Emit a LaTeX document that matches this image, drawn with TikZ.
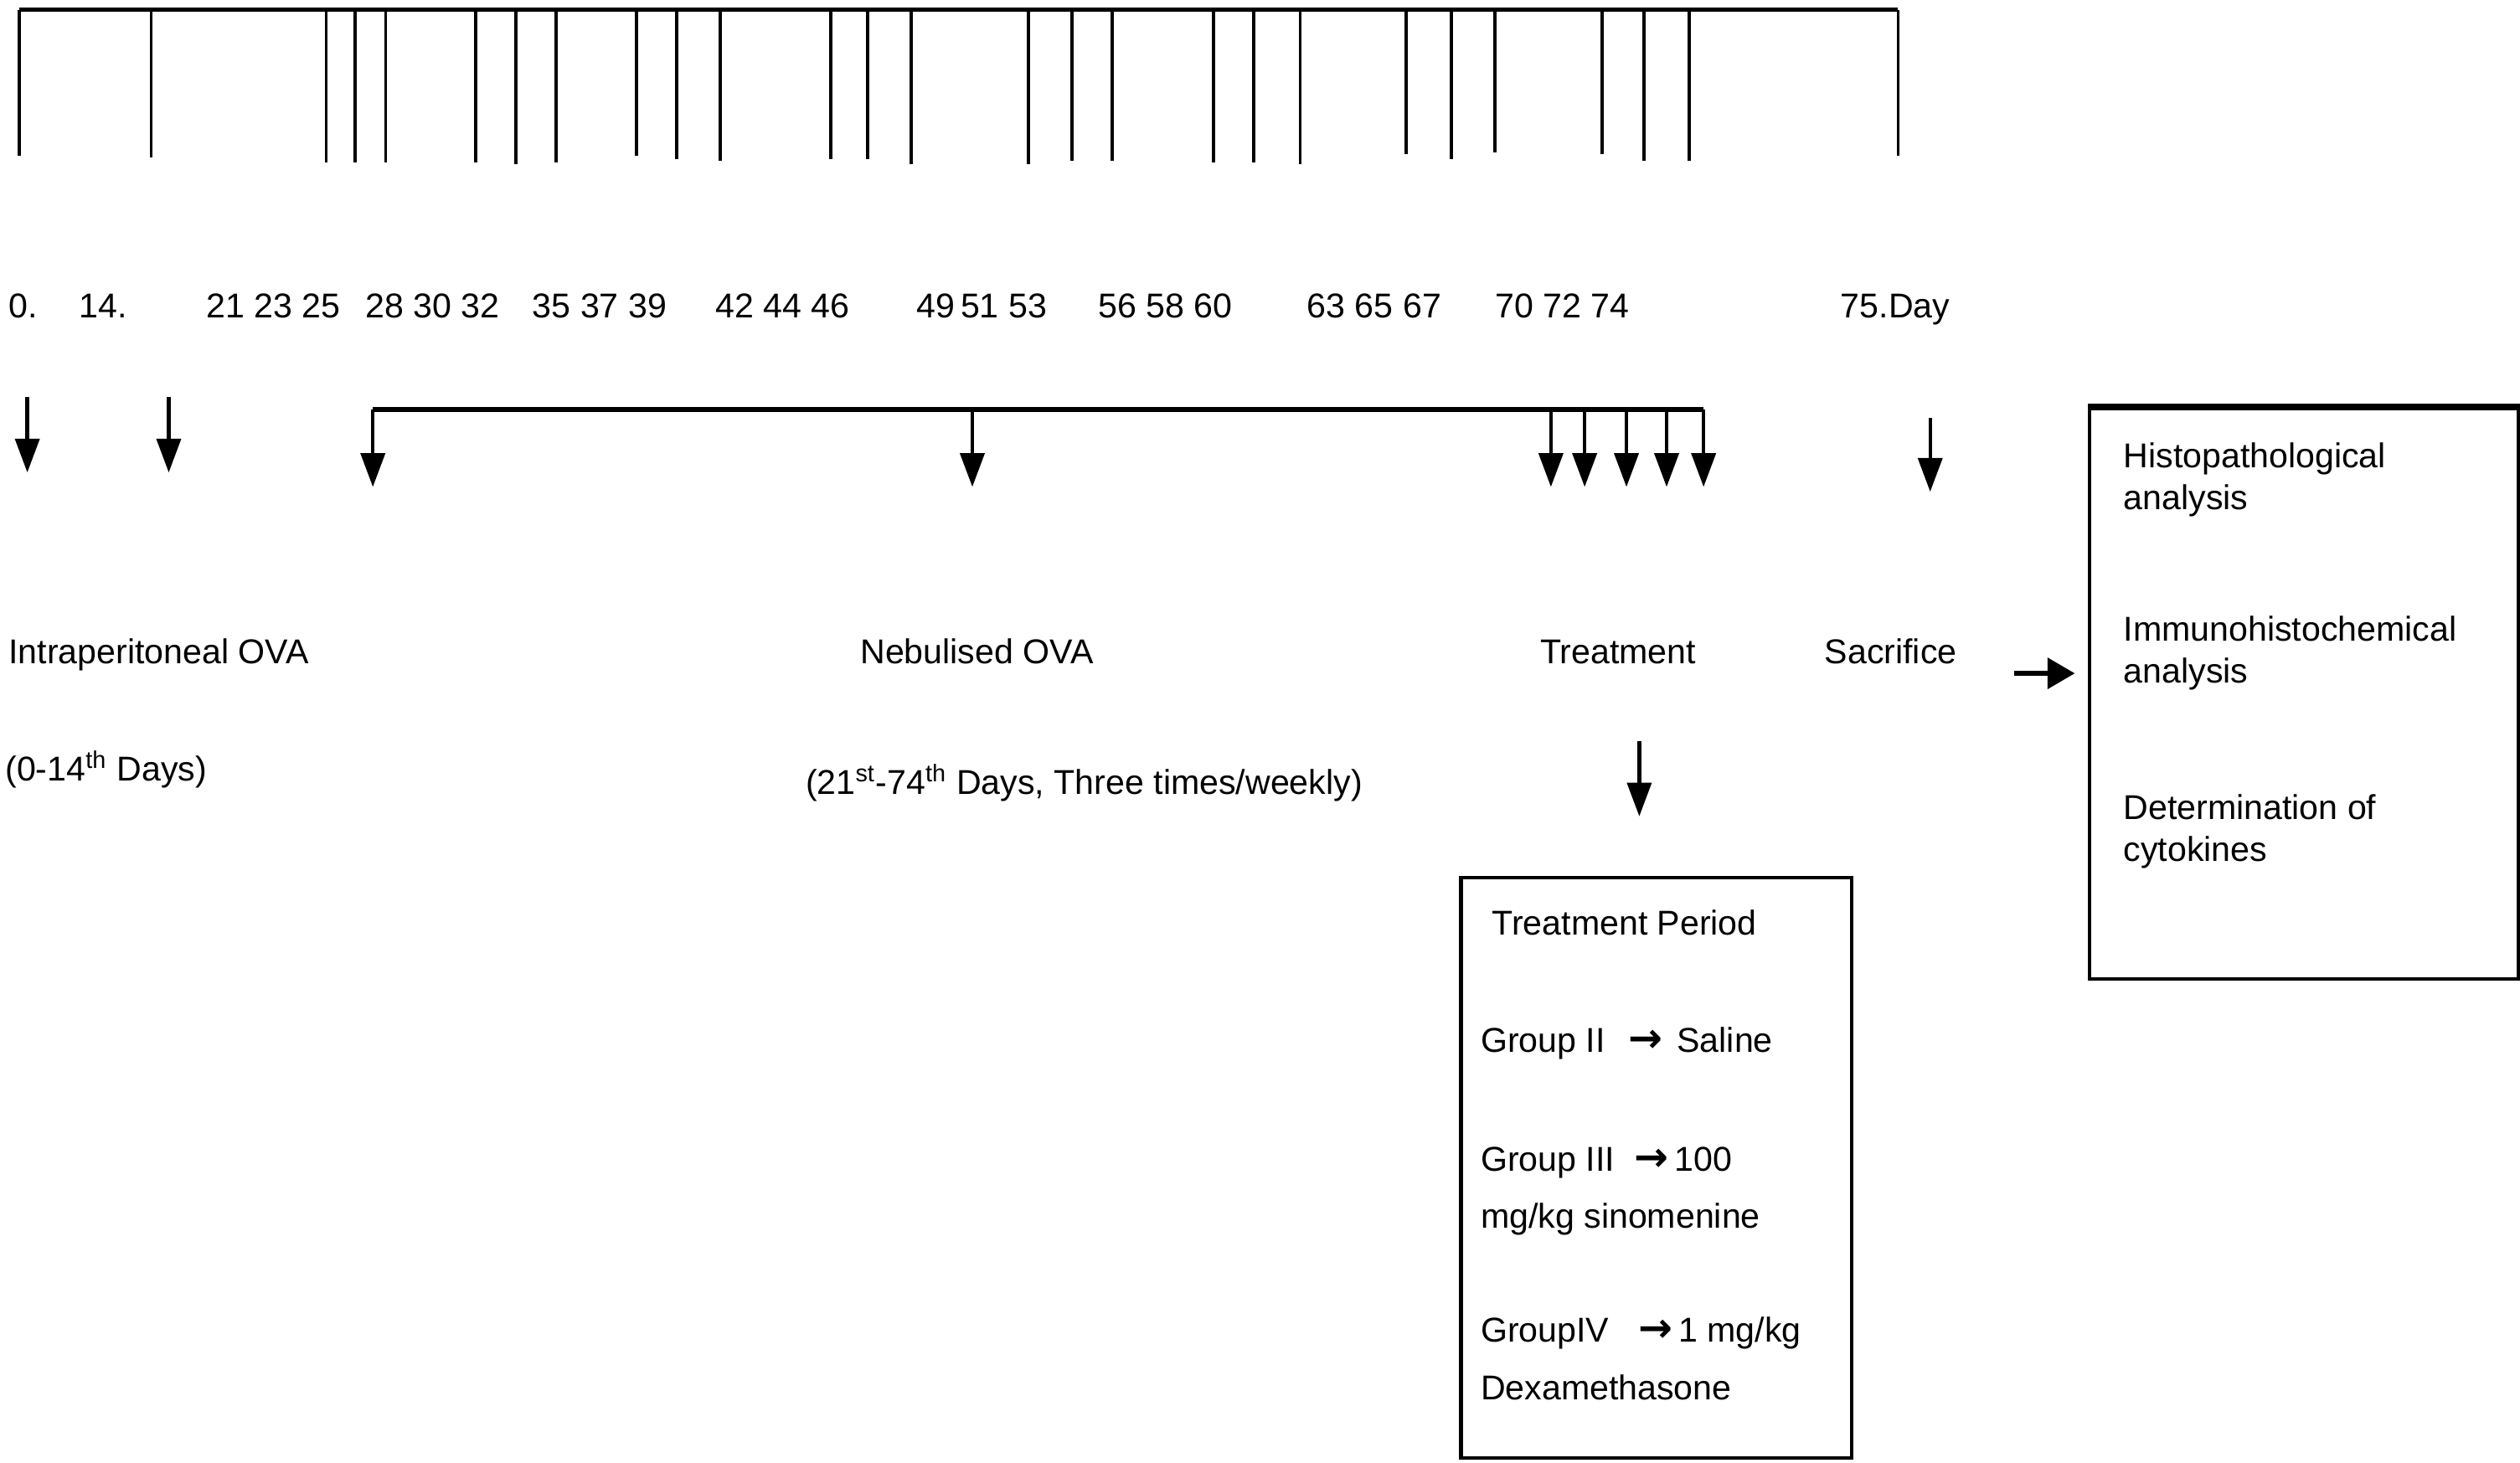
\documentclass[tikz,border=0pt]{standalone}
\usepackage{fontspec}
\setmainfont{Liberation Sans}
\newfontfamily\arrowfont{DejaVu Sans}
\usetikzlibrary{arrows.meta}

\newcommand{\grouparrow}{{\arrowfont\bfseries\fontsize{14.5}{14.5}\selectfont →}}

\begin{document}
\begin{tikzpicture}[x=0.02cm, y=-0.02cm,
    font=\fontsize{12.2}{14.6}\selectfont,
    txt/.style={anchor=base west, inner sep=0pt},
    down/.style={-{Triangle[length=0.42cm, width=0.3cm]}, line width=1.3pt},
    box/.style={draw, line width=1.2pt, anchor=north west, inner sep=0pt}]
  \useasboundingbox (0,0) rectangle (1568,910);
  % time line with day ticks
  \coordinate (t0) at (12,6);
  \coordinate (t75) at (1181,6);
  \draw [line width=1.7pt] (t0) -- (t75);
  \foreach \x/\b in {12/97,94/98,203/101,221/101,240/101,296/101,321/102,346/101,396/97,421/99,448/100,
      517/99,540/99,567/102,640/102,667/100,692/100,755/101,780/101,809/102,875/96,903/99,930/95,
      997/96,1023/100,1051/100,1181/97}
    \draw [line width=1.1pt] (\x,6) -- (\x,\b);
  \foreach \x/\lab [count=\i] in {5/0., 49/14., 128/21 23 25, 227/28 30 32, 331/35 37 39, 445/42 44 46,
      570/49\,51 53, 683/56 58 60, 813/63 65 67, 930/70 72 74, 1145/75.Day}
    \node [txt] (d\i) at (\x,198) {\lab};

  % intraperitoneal injections
  \foreach \x [count=\i] in {17,105} {
    \coordinate (ip\i) at (\x,247);
    \draw [down] (ip\i) -- ++(0,47);
  }
  % nebulisation and treatment
  \coordinate (nb0) at (232,255);
  \coordinate (nb1) at (1060,255);
  \draw [line width=1.7pt] (nb0) -- (nb1);
  \foreach \x [count=\i] in {232,605,965,986,1012,1037,1060} {
    \coordinate (nb\i) at (\x,255);
    \draw [down] (nb\i) -- ++(0,48);
  }
  \coordinate (sc0) at (1201,260);
  \coordinate (sc1) at (1201,306);
  \draw [down] (sc0) -- (sc1);

  \node [txt] (ip) at (5,413) {Intraperitoneal OVA};
  \node [txt] (ipdays) at (3,486) {(0-14\textsuperscript{th} Days)};
  \node [txt] (neb) at (535,413) {Nebulised OVA};
  \node [txt] (nebdays) at (501,494) {(21\textsuperscript{st}-74\textsuperscript{th} Days, Three times/weekly)};
  \node [txt] (treat) at (958,413) {Treatment};
  \node [txt] (sacr) at (1135,413) {Sacrifice};

  % analyses
  \node [box, minimum width=5.34cm, minimum height=7.1cm] (res) at (1299,253) {};
  \draw [line width=2pt] (res.north west) -- (res.north east);
  \coordinate (an0) at (1253,419);
  \coordinate (an1) at (1291,419);
  \draw [-{Triangle[length=0.34cm, width=0.38cm]}, line width=1.6pt] (an0) -- (an1);
  \foreach \y/\t [count=\i] in {291/Histopathological, 317/analysis, 399/Immunohistochemical,
      425/analysis, 510/Determination of, 536/cytokines}
    \node [txt] (r\i) at (1321,\y) {\t};

  % treatment groups
  \coordinate (tr0) at (1020,461);
  \coordinate (tr1) at (1020,508);
  \draw [down] (tr0) -- (tr1);
  \node [box, minimum width=4.86cm, minimum height=7.22cm] (tp) at (908,545) {};
  \node [txt] (tp0) at (928,582) {Treatment Period};
  \node [txt] (g2) at (921,655) {Group II\hspace{8.3pt}\grouparrow\hspace{5pt}Saline};
  \node [txt] (g3) at (921,729) {Group III\hspace{7pt}\grouparrow\hspace{2pt}100};
  \node [txt] (g3b) at (921,764) {mg/kg sinomenine};
  \node [txt] (g4) at (921,835) {GroupIV\hspace{10.5pt}\grouparrow\hspace{2pt}1 mg/kg};
  \node [txt] (g4b) at (921,871) {Dexamethasone};
\end{tikzpicture}
\end{document}
